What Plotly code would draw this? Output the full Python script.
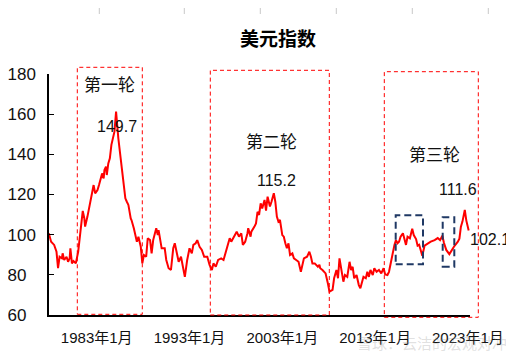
import plotly.graph_objects as go

dates = ["1977-11","1978-02","1978-06","1978-09","1978-11","1979-01","1979-04","1979-05","1979-07","1979-10",
"1979-12","1980-02","1980-03","1980-05","1980-07","1980-10","1981-01","1981-03","1981-05","1981-07",
"1981-09","1981-10","1982-01","1982-04","1982-06","1982-08","1982-09","1982-11","1983-02","1983-04",
"1983-06","1983-08","1983-10","1983-11","1984-01","1984-02","1984-04","1984-06","1984-08","1984-10",
"1984-12","1985-02","1985-04","1985-05","1985-08","1985-11","1986-02","1986-04","1986-06","1986-09",
"1986-10","1987-01","1987-03","1987-05","1987-07","1987-10","1987-12","1988-02","1988-05","1988-07",
"1988-10","1988-12","1989-02","1989-06","1989-08","1989-09","1990-01","1990-05","1990-07","1990-10",
"1991-01","1991-04","1991-06","1991-09","1991-11","1992-02","1992-05","1992-07","1992-10","1993-01",
"1993-04","1993-06","1993-09","1993-11","1994-02","1994-05","1994-08","1994-12","1995-03","1995-06",
"1995-08","1995-11","1996-02","1996-06","1996-09","1997-01","1997-02","1997-05","1997-07","1997-10",
"1998-02","1998-05","1998-08","1998-10","1999-01","1999-04","1999-05","1999-08","1999-09","2000-01",
"2000-03","2000-05","2000-07","2000-09","2000-11","2001-02","2001-04","2001-06","2001-09","2001-11",
"2002-02","2002-04","2002-06","2002-08","2002-10","2003-01","2003-03","2003-05","2003-07","2003-09",
"2003-11","2004-02","2004-04","2004-07","2004-10","2005-01","2005-03","2005-05","2005-09","2005-12",
"2006-02","2006-04","2006-07","2006-11","2007-01","2007-02","2007-05","2007-07","2007-09","2007-12",
"2008-02","2008-06","2008-08","2008-11","2009-01","2009-03","2009-06","2009-08","2009-10","2010-01",
"2010-04","2010-06","2010-08","2010-10","2011-01","2011-04","2011-06","2011-08","2011-10","2012-01",
"2012-03","2012-05","2012-07","2012-10","2012-12","2013-03","2013-06","2013-09","2013-12","2014-02",
"2014-05","2014-07","2014-09","2014-12","2015-02","2015-04","2015-06","2015-08","2015-10","2016-01",
"2016-03","2016-05","2016-07","2016-10","2017-01","2017-03","2017-06","2017-08","2017-10","2018-02",
"2018-05","2018-09","2019-01","2019-06","2019-10","2020-01","2020-04","2020-06","2020-09","2021-01",
"2021-04","2021-07","2021-12","2022-02","2022-04","2022-06","2022-09","2022-11","2023-02"]

dxy = [100.7,96.5,94.9,91.5,83.3,89.0,88.2,90.7,87.4,89.0,
86.5,88.2,93.2,85.7,86.9,85.7,91.5,98.2,106.5,111.8,
108.1,104.0,109.0,114.8,118.1,121.4,124.7,120.6,122.2,124.7,
127.2,130.5,128.0,132.2,133.9,129.7,135.5,138.0,144.7,148.9,
151.4,161.3,148.9,148.0,138.0,128.0,118.1,116.4,114.8,108.1,
107.3,103.2,99.0,96.5,99.0,94.0,85.7,89.9,89.0,98.2,
97.3,90.7,97.3,103.2,99.8,102.3,93.2,93.2,87.4,83.3,
82.4,93.2,95.7,89.9,86.5,89.0,84.0,79.0,87.4,93.2,
90.7,94.9,95.7,97.3,94.0,92.4,89.0,89.0,85.0,82.4,
85.7,84.0,87.4,88.2,87.4,93.2,94.9,98.2,96.5,99.0,
101.5,99.0,100.7,94.9,96.5,100.7,103.2,99.0,101.5,104.0,
105.6,111.4,109.8,115.6,113.1,117.3,112.0,118.9,114.0,116.4,
120.6,116.4,109.0,106.5,107.3,99.8,99.0,95.7,93.2,95.7,
89.9,90.7,88.2,87.4,86.5,81.5,85.0,88.2,89.0,91.5,
89.0,85.7,85.7,84.0,85.0,83.3,82.4,81.5,80.7,75.7,
71.6,72.5,78.3,82.4,78.3,88.2,80.7,76.6,79.9,79.0,
86.5,82.4,84.0,78.3,79.9,74.9,73.3,75.7,79.0,78.3,
81.5,79.0,82.4,79.9,83.3,81.5,82.4,80.7,83.3,80.2,
79.9,81.5,85.7,89.9,94.9,97.3,95.7,96.5,99.0,100.7,
97.3,94.9,99.0,98.2,103.0,99.8,97.8,94.5,95.0,89.5,
94.5,95.7,96.5,97.3,98.3,97.3,99.5,96.0,92.4,90.3,
92.4,94.0,96.5,98.0,104.0,106.5,112.3,107.0,102.1]

tick_vals = ["1983-01-01", "1993-01-01", "2003-01-01", "2013-01-01", "2023-01-01"]
tick_text = ["1983年1月", "1993年1月", "2003年1月", "2013年1月", "2023年1月"]
y_ticks = [60, 80, 100, 120, 140, 160, 180]
y_text = ["60\u00a0\u00a0", "80\u00a0\u00a0", "100", "120", "140", "160", "180"]

round_labels = ["第一轮", "第二轮", "第三轮"]
peak_labels = ["149.7", "115.2", "111.6"]
last_label = "102.1"

# page body has an 8px default margin; lay out in window pixels and compensate
OFF = 8
W, H = 514, 358
L, R, T, B = 49, 470, 74, 315
def px(x):
    return (x - L) / (R - L)
def py(y):
    return (B - y) / (B - T)

FONT = "Liberation Sans, Arial, Noto Sans CJK SC, sans-serif"
CJK = "Noto Sans CJK SC, Liberation Sans, sans-serif"

fig = go.Figure()
fig.add_trace(go.Scatter(x=dates, y=dxy, mode="lines",
                         line=dict(color="#ff0000", width=2), showlegend=False,
                         hoverinfo="x+y"))

shapes = []
for (x0, x1, y0, y1) in [(77.3, 142.3, 314.3, 67.3), (210.3, 329.3, 315, 70.3), (384.3, 478.3, 317.3, 71.7)]:
    shapes.append(dict(type="rect", xref="paper", yref="paper", x0=px(x0), x1=px(x1), y0=py(y0), y1=py(y1),
                       line=dict(color="#ff0000", width=1, dash="4px,3px"), layer="above"))
for (x0, x1, y0, y1) in [(395.7, 423.0, 264.3, 215.3), (442.7, 454.3, 266.7, 217.3)]:
    shapes.append(dict(type="rect", xref="paper", yref="paper", x0=px(x0), x1=px(x1), y0=py(y0), y1=py(y1),
                       line=dict(color="#1f3864", width=2, dash="7px,4px"), layer="above"))
for xv in [99.3, 184.3, 260.3, 336.3, 412.3, 488.3]:
    shapes.append(dict(type="line", xref="paper", yref="paper", x0=px(xv), x1=px(xv), y0=py(OFF), y1=py(14),
                       line=dict(color="#c8c8c8", width=1)))

annotations = []
def add_text(text, x, y, size, family=FONT, color="#111111", bold=False):
    annotations.append(dict(text=("<b>%s</b>" % text) if bold else text, xref="paper", yref="paper",
                            x=px(x), y=py(y), xanchor="center", yanchor="middle", showarrow=False,
                            font=dict(size=size, family=family, color=color)))

add_text(round_labels[0], 109, 84, 17, CJK)
add_text(round_labels[1], 271, 140, 17, CJK)
add_text(round_labels[2], 434, 153, 17, CJK)
add_text(peak_labels[0], 116.7, 126, 16)
add_text(peak_labels[1], 276.7, 180, 16)
add_text(peak_labels[2], 458, 189, 16)
add_text(last_label, 490, 239, 16)
add_text("美元指数", 277.5, 37, 19, CJK, "#000000", bold=True)
add_text("雪球：云洁的宏观对冲", 432, 342, 15, CJK, "rgba(150,150,150,0.3)")

fig.update_layout(
    width=W - OFF, height=H - OFF,
    margin=dict(l=L - OFF, r=W - R, t=T - OFF, b=H - B, pad=0, autoexpand=False),
    paper_bgcolor="white", plot_bgcolor="white",
    shapes=shapes, annotations=annotations,
    font=dict(family=FONT, size=15, color="#111111"),
    xaxis=dict(type="date", range=["1977-11-10", "2023-03-25"], tickvals=tick_vals, ticktext=tick_text,
               showgrid=False, zeroline=False, showline=True, linecolor="#000000", linewidth=1.5,
               ticks="", tickfont=dict(size=15, family=FONT, color="#111111"), ticklabelstandoff=8,
               automargin=False),
    yaxis=dict(range=[60, 180], tickvals=y_ticks, ticktext=y_text, showgrid=False, zeroline=False,
               showline=True, linecolor="#000000", linewidth=1.5, ticks="inside", ticklen=5,
               tickcolor="#000000", tickfont=dict(size=17, family=FONT, color="#111111"),
               ticklabelstandoff=8, automargin=False),
)

fig.write_html("out.html")
